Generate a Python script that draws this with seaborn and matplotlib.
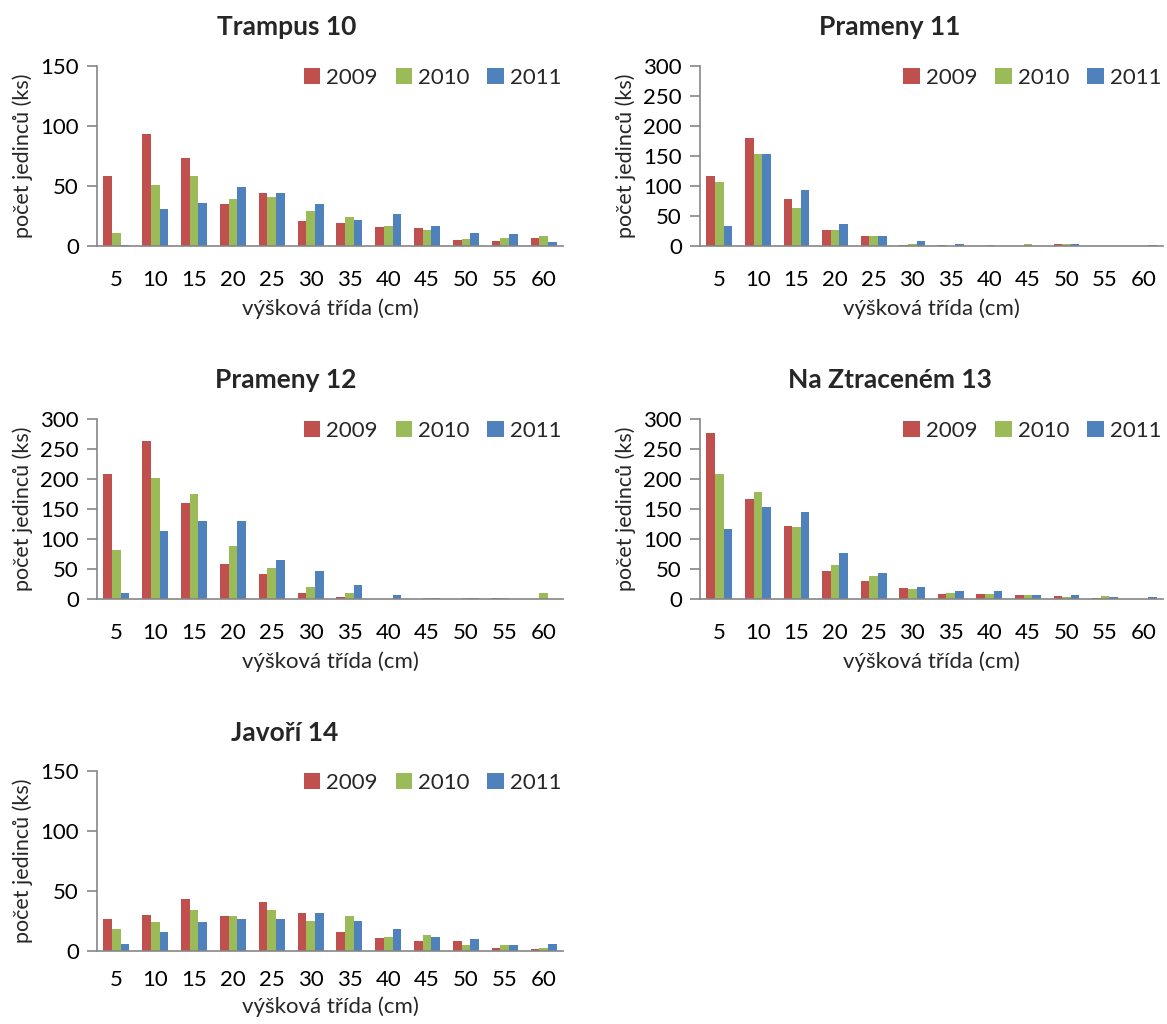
import numpy as np
import pandas as pd
import matplotlib
matplotlib.use("Agg")
import matplotlib.pyplot as plt
import seaborn as sns

classes = ["5", "10", "15", "20", "25", "30", "35", "40", "45", "50", "55", "60"]
years = ["2009", "2010", "2011"]

titles = ["Trampus 10", "Prameny 11", "Prameny 12", "Na Ztraceném 13", "Javoří 14"]

trampus10_2009 = [58, 93, 73, 35, 44, 21, 19, 16, 15, 5, 4.5, 7]
trampus10_2010 = [11, 51, 58, 39, 41, 29, 24, 17, 13, 6, 7, 8]
trampus10_2011 = [1, 31, 36, 49, 44, 35, 22, 27, 17, 11, 10, 3]

prameny11_2009 = [117, 180, 79, 26, 16, 2, 2, 0, 0, 3, 0, 0]
prameny11_2010 = [107, 153, 63, 26, 16, 4, 0, 1.5, 3, 3, 0, 0]
prameny11_2011 = [34, 153, 94, 36, 16, 8, 3, 0, 0, 3, 0, 2]

prameny12_2009 = [208, 263, 160, 59, 41, 9.5, 4, 0, 0, 0.5, 2, 0.5]
prameny12_2010 = [82, 202, 175, 89, 52, 20, 9.5, 0.5, 2, 2, 2, 9.5]
prameny12_2011 = [10.5, 114, 130, 130, 65, 46, 24, 7, 2, 2, 0, 0.5]

ztracenem13_2009 = [276, 167, 122, 46, 30, 18, 9, 9, 7, 5, 2, 0.5]
ztracenem13_2010 = [208, 178, 120, 56, 39, 17, 10.5, 9, 7, 3, 5, 0]
ztracenem13_2011 = [117, 154, 145, 77, 43, 20, 14, 14, 7, 7, 3, 3]

javori14_2009 = [27, 30, 43, 29, 41, 32, 16, 11, 8, 8, 2.5, 1.5]
javori14_2010 = [18.6, 24, 34, 29.5, 34, 25, 29, 12, 13.6, 5, 5, 2.5]
javori14_2011 = [6, 16, 24, 27, 27, 32, 25, 18.6, 12, 10, 5, 6]

series = [
    (trampus10_2009, trampus10_2010, trampus10_2011),
    (prameny11_2009, prameny11_2010, prameny11_2011),
    (prameny12_2009, prameny12_2010, prameny12_2011),
    (ztracenem13_2009, ztracenem13_2010, ztracenem13_2011),
    (javori14_2009, javori14_2010, javori14_2011),
]
ymax = [150, 300, 300, 300, 150]

colors = ["#C0504D", "#9BBB59", "#4F81BD"]
font_list = ["Lato", "DejaVu Sans"]

sns.set_theme(style="white")
plt.rcParams["font.family"] = font_list

W, H = 1167, 1024
fig = plt.figure(figsize=(W / 100, H / 100), dpi=100)

# axes boxes in pixels: left, top, right, bottom
boxes = [
    (97, 66, 563, 246),
    (700, 66, 1163, 246),
    (97, 419, 563, 599),
    (700, 419, 1163, 599),
    (97, 771, 563, 951),
]
title_pos = [(287, 27), (890, 27), (286, 380), (890, 380), (285, 733)]
tick_pads = [17, 17, 17, 17, 14]
label_pads = [6, 6, 6, 6, 4]

axis_gray = "#868686"

for i, (box, title) in enumerate(zip(boxes, titles)):
    l, t, r, b = box
    ax = fig.add_axes([l / W, 1 - b / H, (r - l) / W, (b - t) / H])
    rows = []
    for yr, vals in zip(years, series[i]):
        for c, v in zip(classes, vals):
            rows.append({"trida": c, "pocet": v, "rok": yr})
    df = pd.DataFrame(rows)
    sns.barplot(data=df, x="trida", y="pocet", hue="rok", order=classes,
                hue_order=years, palette=colors, width=0.67, linewidth=0,
                saturation=1, ax=ax, errorbar=None)
    ax.set_ylim(0, ymax[i])
    ax.set_yticks(np.arange(0, ymax[i] + 1, 50))
    ax.set_xlim(-0.5, 11.5)
    for s in ["top", "right"]:
        ax.spines[s].set_visible(False)
    for s in ["left", "bottom"]:
        ax.spines[s].set_color(axis_gray)
        ax.spines[s].set_linewidth(1.2)
    ax.tick_params(axis="y", which="both", left=True, length=7, width=1.2,
                   color=axis_gray, labelsize=16, pad=6, labelcolor="black")
    ax.tick_params(axis="x", which="both", bottom=False, length=0,
                   labelsize=16, pad=tick_pads[i], labelcolor="black")
    ax.set_xlabel("výšková třída (cm)", fontsize=16, labelpad=label_pads[i])
    ax.set_ylabel("počet jedinců (ks)", fontsize=15.5, labelpad=5)
    leg = ax.legend(loc="upper right", bbox_to_anchor=(1.04, 1.1), ncol=3,
                    frameon=False, fontsize=16, handlelength=0.75,
                    handleheight=0.75, handletextpad=0.27, columnspacing=0.8)
    fig.text(title_pos[i][0] / W, 1 - title_pos[i][1] / H, title,
             ha="center", va="center", fontsize=19, fontweight="bold")

fig.savefig("out.png", dpi=100)
